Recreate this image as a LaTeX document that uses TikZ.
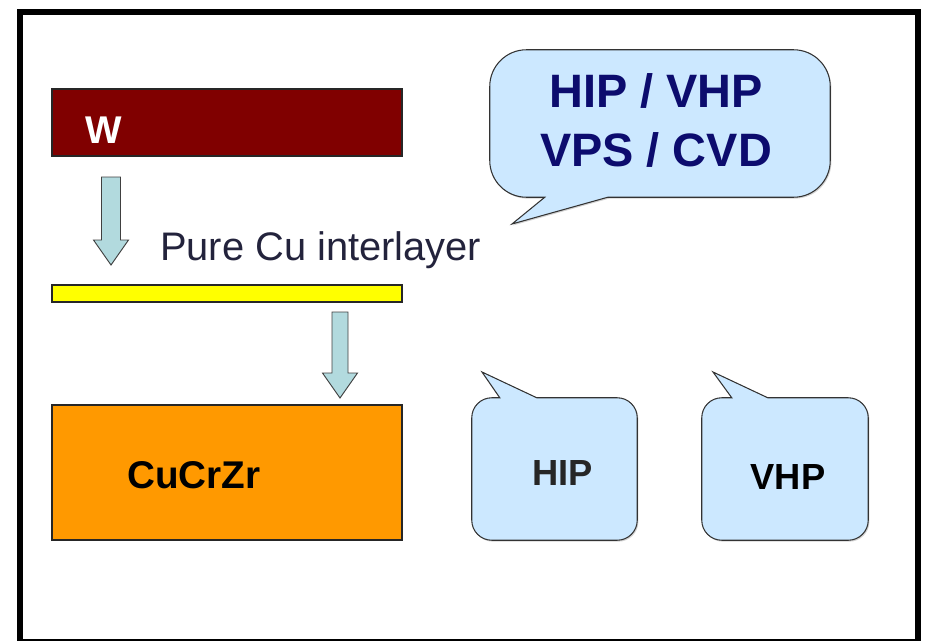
\documentclass[tikz,border=0pt]{standalone}
\usepackage{fontspec}
\setmainfont{Liberation Sans}
\usetikzlibrary{positioning, calc, shadows}

\definecolor{wred}{RGB}{128,0,0}
\definecolor{cuyellow}{RGB}{255,255,0}
\definecolor{cuorange}{RGB}{255,153,0}
\definecolor{arrowblue}{RGB}{178,218,222}
\definecolor{bubbleblue}{RGB}{204,232,255}
\definecolor{navy}{RGB}{12,12,110}
\definecolor{labelgray}{RGB}{35,35,60}

\begin{document}
\begin{tikzpicture}[x=0.03cm, y=-0.03cm,
    layer/.style={rectangle, draw=black!85, line width=1pt, minimum width=10.5cm, inner sep=0pt,
      drop shadow={shadow xshift=1pt, shadow yshift=-1pt, opacity=0.3}},
    blockarrow/.style={draw=black!75, fill=arrowblue, line width=0.8pt, line join=miter},
    bubblebox/.style={rectangle, inner sep=0pt},
    bubble/.style={fill=bubbleblue, draw=black!80, line width=0.9pt,
      drop shadow={shadow xshift=1pt, shadow yshift=-1.2pt, opacity=0.35}},
    bubbletext/.style={font=\bfseries\fontsize{31}{31}\selectfont}]
    \useasboundingbox (0,0) rectangle (925,640);

    % Frame
    \draw [line width=5pt] (20,12) rectangle (918,642);

    % Layers
    \node [layer, fill=wred, minimum height=2.01cm] (W) at (227,122.5) {};
    \node [layer, fill=cuyellow, minimum height=0.51cm] (Cu) at (227,293.5) {};
    \node [layer, fill=cuorange, minimum height=4.05cm] (CuCrZr) at (227,472.5) {};

    % Texts
    \node [font=\bfseries\fontsize{33}{33}\selectfont, text=white] (Wlabel) at (104,130) {W};
    \node [anchor=base west, font=\fontsize{34}{34}\selectfont, text=labelgray] (Culabel) at (156,260) {Pure Cu interlayer};
    \node [font=\bfseries\fontsize{33}{33}\selectfont] (CuCrZrlabel) at (194,475) {CuCrZr};

    % Arrows
    \coordinate (A1) at (111,177);
    \draw [blockarrow] (A1) ++(-9.5,0) -- ++(0,63) -- ++(-8,0) -- ++(17.5,25) -- ++(17.5,-25) -- ++(-8,0) -- ++(0,-63) -- cycle;
    \coordinate (A2) at (340,312);
    \draw [blockarrow] (A2) ++(-8,0) -- ++(0,61) -- ++(-9.5,0) -- ++(17.5,25) -- ++(17.5,-25) -- ++(-9.5,0) -- ++(0,-61) -- cycle;

    % Bubbles
    \node [bubblebox, minimum width=10.2cm, minimum height=4.41cm] (methods) at (660,123.5) {};
    \coordinate (methodstip) at (512,224);
    \draw [bubble] ($(methods.south west)+(118,0)$) [rounded corners=1.1cm] -- (methods.south east) -- (methods.north east)
      -- (methods.north west) -- (methods.south west) [sharp corners] -- ($(methods.south west)+(55,0)$) -- (methodstip) -- cycle;
    \node [align=center, text=navy, font=\bfseries\fontsize{40}{51}\selectfont] (methodstext) at ($(methods)+(-4,-3)$) {HIP / VHP\\VPS / CVD};

    \node [bubblebox, minimum width=4.95cm, minimum height=4.26cm] (hip) at (554.5,469) {};
    \coordinate (hiptip) at (482,372);
    \draw [bubble] ($(hip.north west)+(65,0)$) [rounded corners=0.6cm] -- (hip.north east) -- (hip.south east)
      -- (hip.south west) -- (hip.north west) [sharp corners] -- ($(hip.north west)+(28,0)$) -- (hiptip) -- cycle;
    \node [bubbletext, text=black!85] (hiptext) at ($(hip)+(8,4)$) {HIP};

    \node [bubblebox, minimum width=4.98cm, minimum height=4.26cm] (vhp) at (785,469) {};
    \coordinate (vhptip) at (713,372);
    \draw [bubble] ($(vhp.north west)+(66,0)$) [rounded corners=0.6cm] -- (vhp.north east) -- (vhp.south east)
      -- (vhp.south west) -- (vhp.north west) [sharp corners] -- ($(vhp.north west)+(30,0)$) -- (vhptip) -- cycle;
    \node [bubbletext] (vhptext) at ($(vhp)+(3,8)$) {VHP};
\end{tikzpicture}
\end{document}
